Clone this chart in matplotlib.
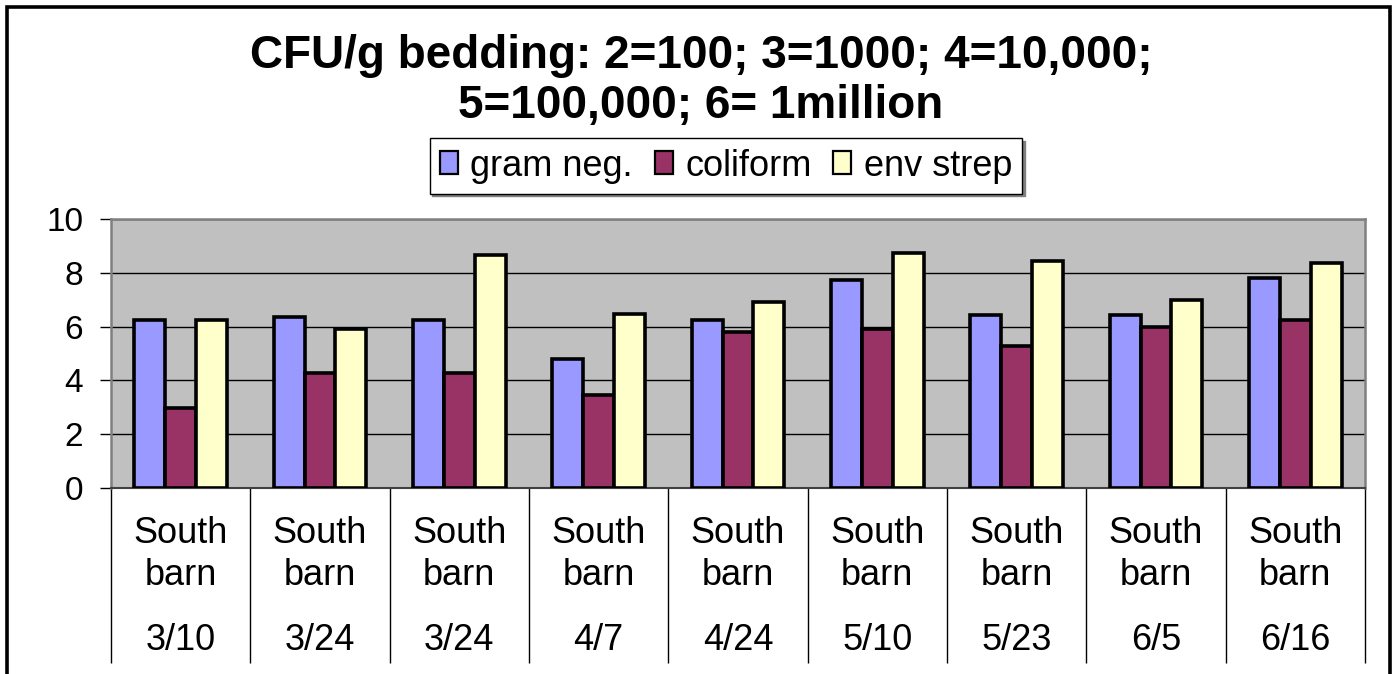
import matplotlib
matplotlib.use("Agg")
import matplotlib.pyplot as plt
from matplotlib.patches import Rectangle, Patch
import matplotlib.transforms as mtransforms
import numpy as np

plt.rcParams['font.family'] = ['Liberation Sans', 'DejaVu Sans']

categories = ["South\nbarn", "South\nbarn", "South\nbarn", "South\nbarn", "South\nbarn",
              "South\nbarn", "South\nbarn", "South\nbarn", "South\nbarn"]
dates = ["3/10", "3/24", "3/24", "4/7", "4/24", "5/10", "5/23", "6/5", "6/16"]
series_names = ["gram neg.", "coliform", "env strep"]
gram_neg = [6.26, 6.36, 6.26, 4.81, 6.26, 7.73, 6.43, 6.43, 7.80]
coliform = [2.98, 4.26, 4.26, 3.44, 5.80, 5.90, 5.27, 5.99, 6.26]
env_strep = [6.26, 5.90, 8.65, 6.45, 6.91, 8.72, 8.45, 6.99, 8.36]
yticks = [0, 2, 4, 6, 8, 10]
title_lines = ["CFU/g bedding: 2=100; 3=1000; 4=10,000;", "5=100,000; 6= 1million"]

colors = ["#9999FF", "#993366", "#FFFFCC"]

W, H = 1399, 674
fig = plt.figure(figsize=(W / 100, H / 100), dpi=100)
fig.patch.set_facecolor("white")

# outer frame
fig.add_artist(Rectangle((7 / W, -0.05), (1390 - 7) / W, 1.05 - 7 / H,
                         transform=fig.transFigure, fill=False, edgecolor="black",
                         linewidth=2.6))

ax = fig.add_axes([111 / W, 1 - 488 / H, (1365 - 111) / W, (488 - 219) / H])
ax.set_facecolor("#C0C0C0")

n = len(categories)
x = np.arange(n)
bw = 1 / 4.5
for i, (vals, col) in enumerate(zip([gram_neg, coliform, env_strep], colors)):
    ax.bar(x + (i - 1) * bw, vals, width=bw, color=col, edgecolor="black",
           linewidth=2.6, zorder=3, label=series_names[i])

ax.set_xlim(-0.5, n - 0.5)
ax.set_ylim(0, 10)
ax.set_yticks(yticks)
ax.set_yticklabels([str(v) for v in yticks], fontsize=24)
ax.yaxis.grid(True, color="black", linewidth=1.0, zorder=1)
ax.set_axisbelow(True)

# category boundaries (major ticks, long separators) and labels (minor)
ax.set_xticks(np.arange(n + 1) - 0.5)
ax.set_xticklabels([])
ax.tick_params(axis="x", which="major", length=126, width=1.0, color="black", direction="out")
ax.set_xticks(x, minor=True)
ax.set_xticklabels(categories, minor=True, fontsize=26, linespacing=1.28)
ax.tick_params(axis="x", which="minor", length=0, pad=20)
ax.tick_params(axis="y", length=8, width=1.0, pad=12, direction="out")

trans = mtransforms.blended_transform_factory(ax.transData, ax.transAxes)
for xi, d in zip(x, dates):
    ax.text(xi, -(640 - 488) / 269, d, transform=trans, ha="center", va="center",
            fontsize=26, clip_on=False)

for side in ["top", "right", "left"]:
    ax.spines[side].set_color("#808080")
    ax.spines[side].set_linewidth(1.8)
ax.spines["bottom"].set_color("#404040")
ax.spines["bottom"].set_linewidth(1.5)

fig.text(701 / W, 1 - 56 / H, title_lines[0], ha="center", va="center",
         fontsize=33, fontweight="bold")
fig.text(701 / W, 1 - 106 / H, title_lines[1], ha="center", va="center",
         fontsize=33, fontweight="bold")

handles = [Patch(facecolor=c, edgecolor="black", linewidth=1.6) for c in colors]
leg = fig.legend(handles, series_names, loc="center", bbox_to_anchor=(726 / W, 1 - 166 / H),
                 ncol=3, fontsize=26, frameon=True, fancybox=False, edgecolor="black",
                 handlelength=0.5, handleheight=0.6, handletextpad=0.35,
                 columnspacing=0.6, borderpad=0.28, borderaxespad=0.0,
                 shadow={'ox': 2, 'oy': -2, 'color': '#808080', 'alpha': 1})
leg.get_frame().set_linewidth(1.0)

fig.savefig("out.png", dpi=100)
